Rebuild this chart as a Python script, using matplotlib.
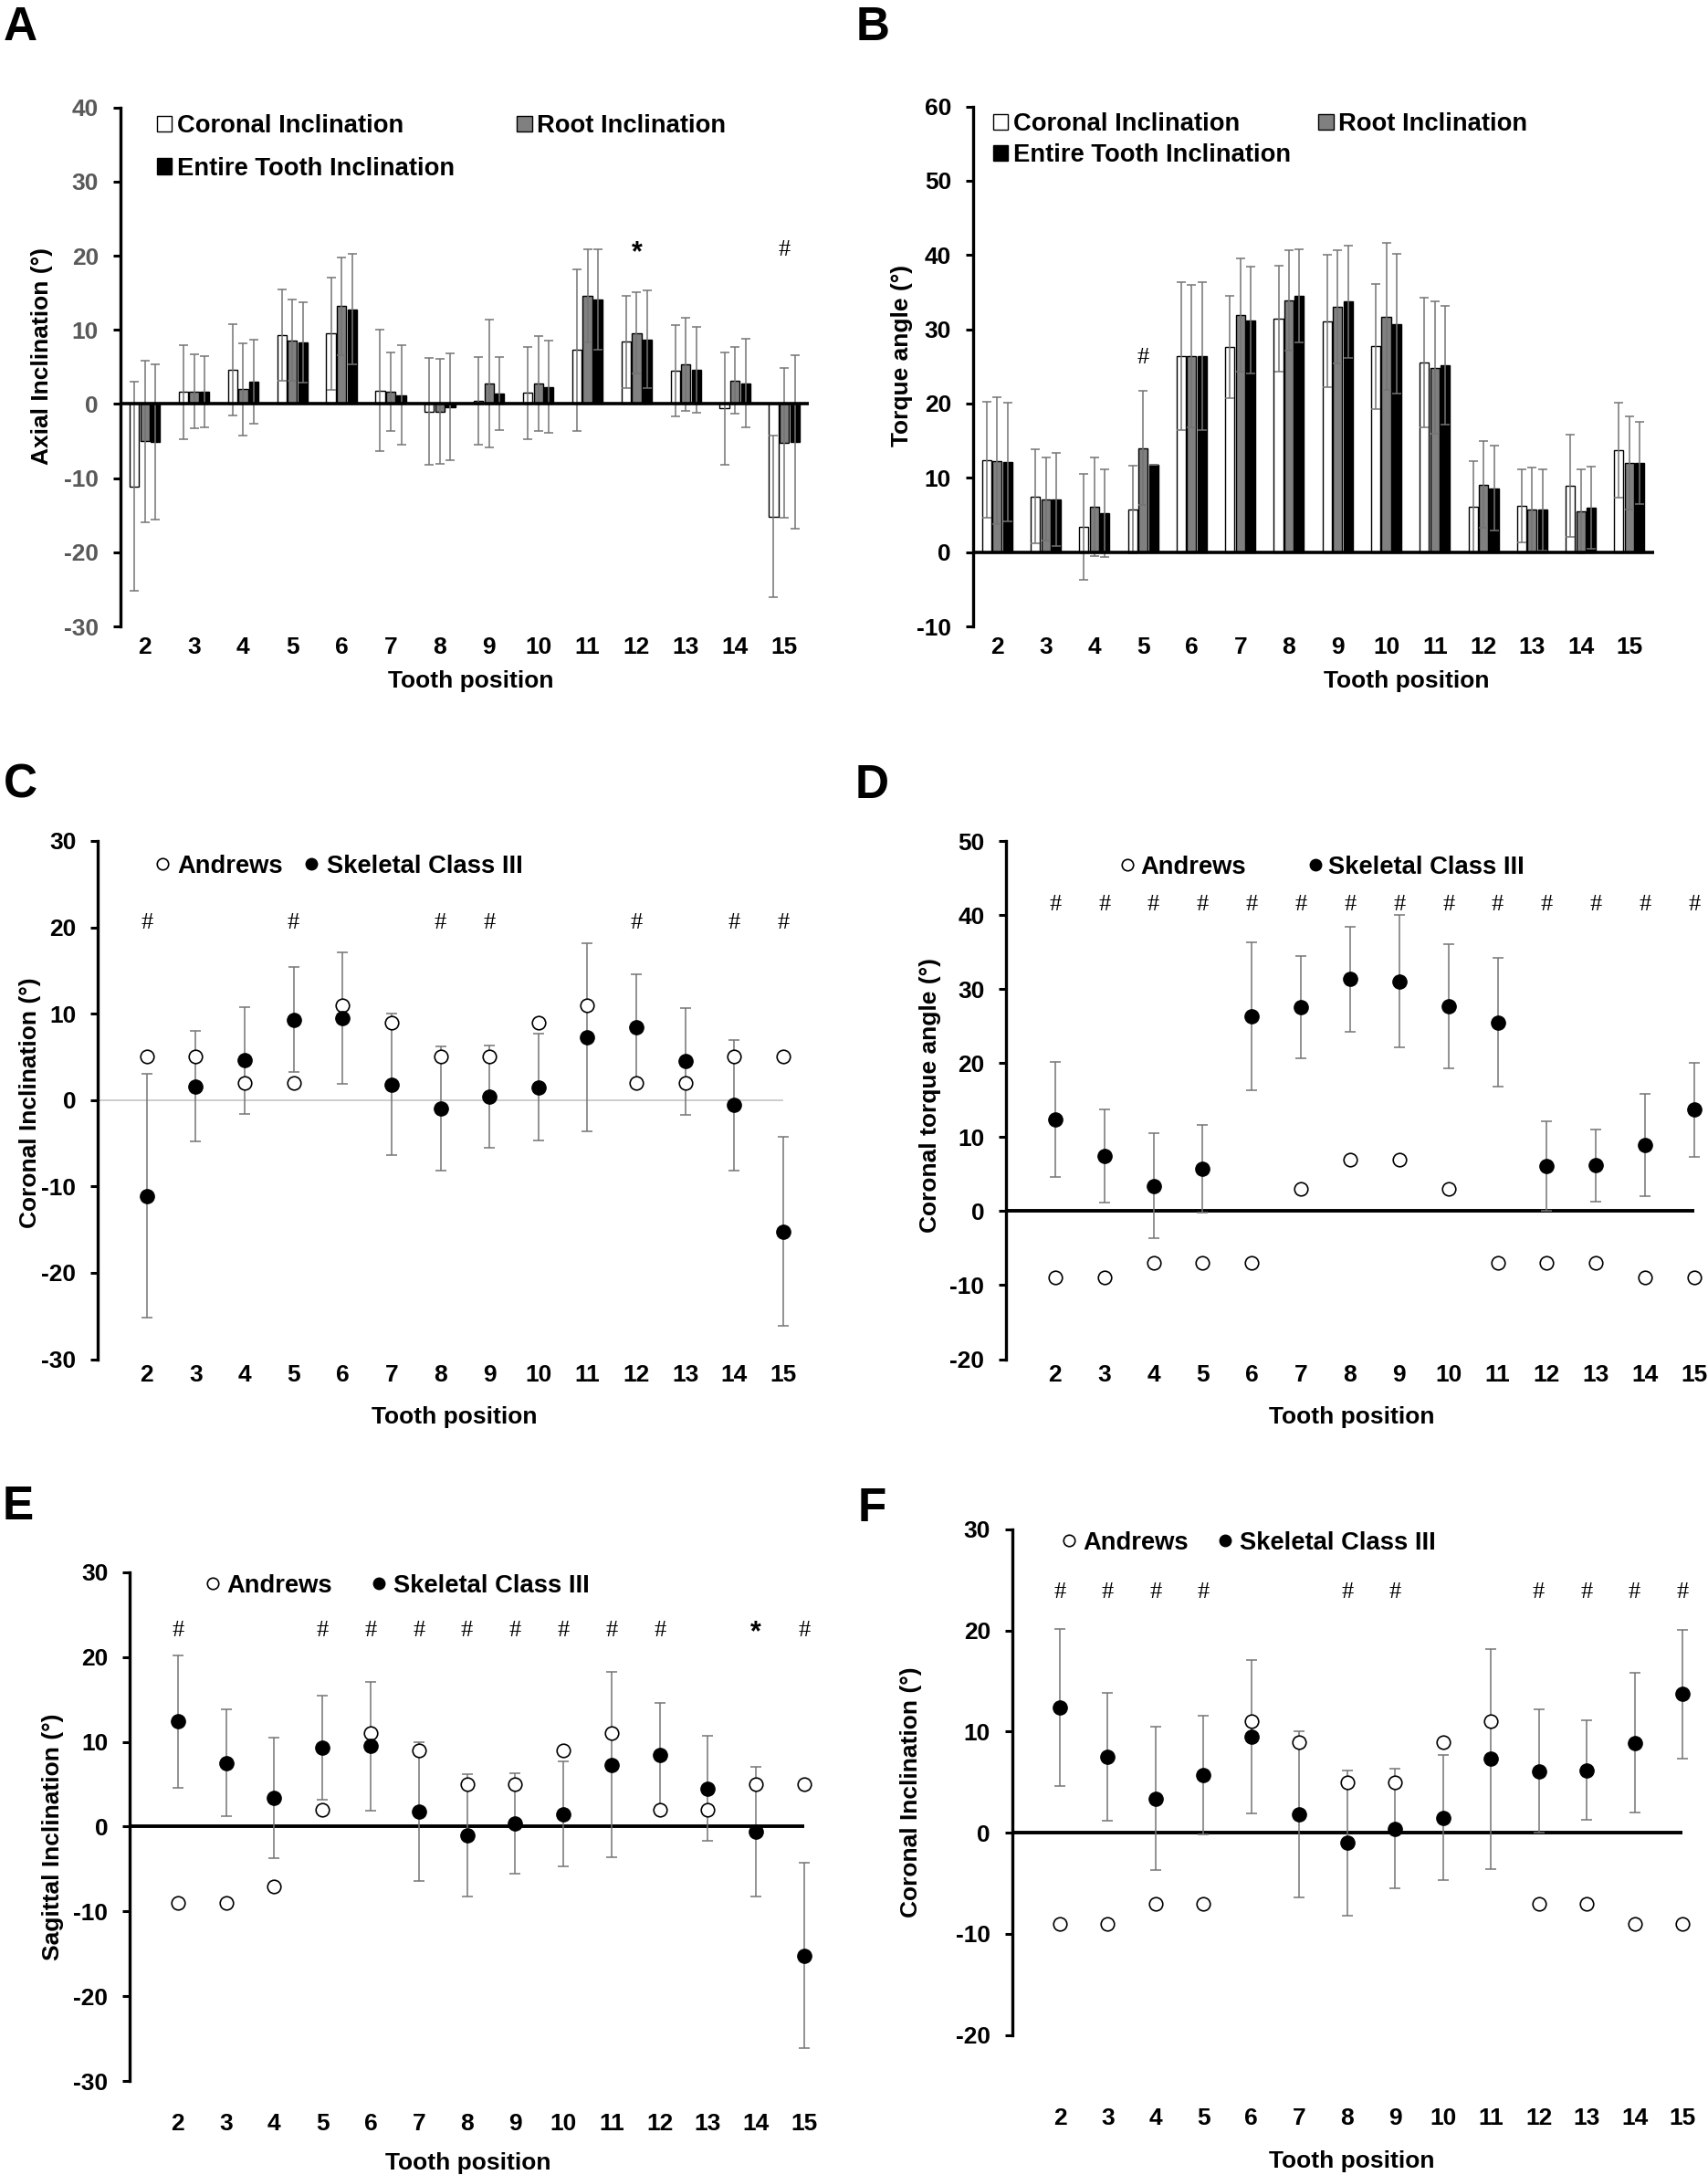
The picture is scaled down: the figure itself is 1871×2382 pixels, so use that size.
import numpy as np
import matplotlib
matplotlib.use('Agg')
import matplotlib.pyplot as plt
from matplotlib.patches import Patch
from matplotlib.lines import Line2D

plt.rcParams['font.family'] = ['Liberation Sans', 'DejaVu Sans']
plt.rcParams['font.weight'] = 'bold'
plt.rcParams['axes.unicode_minus'] = False

teeth = list(range(2, 16))

# A: axial inclination (mean, SD)
axial_coronal = [-11.1, 1.6, 4.6, 9.3, 9.5, 1.8, -1.0, 0.4, 1.5, 7.3, 8.4, 4.5, -0.6, -15.2]
axial_coronal_sd = [14.1, 6.4, 6.2, 6.1, 7.6, 8.2, 7.2, 5.9, 6.2, 10.9, 6.2, 6.2, 7.6, 10.9]
axial_root = [-5.0, 1.7, 2.0, 8.6, 13.2, 1.7, -1.0, 2.8, 2.8, 14.6, 9.6, 5.4, 3.2, -5.2]
axial_root_sd = [10.9, 5.0, 6.2, 5.5, 6.6, 5.3, 7.1, 8.6, 6.4, 6.3, 5.5, 6.3, 4.5, 10.1]
axial_entire = [-5.1, 1.7, 3.0, 8.3, 12.8, 1.2, -0.4, 1.4, 2.3, 14.1, 8.7, 4.6, 2.8, -5.1]
axial_entire_sd = [10.5, 4.8, 5.7, 5.4, 7.5, 6.7, 7.2, 4.9, 6.2, 6.8, 6.6, 5.8, 6.0, 11.7]

# B: torque angle (mean, SD)
torque_coronal = [12.4, 7.5, 3.4, 5.7, 26.4, 27.6, 31.4, 31.1, 27.7, 25.5, 6.1, 6.2, 8.9, 13.7]
torque_coronal_sd = [7.8, 6.3, 7.1, 5.9, 10.0, 6.9, 7.1, 8.9, 8.4, 8.7, 6.1, 4.9, 6.9, 6.4]
torque_root = [12.3, 7.1, 6.1, 14.0, 26.4, 31.9, 33.9, 33.0, 31.7, 24.8, 9.1, 5.7, 5.5, 12.0]
torque_root_sd = [8.5, 5.6, 6.6, 7.7, 9.6, 7.6, 6.8, 7.6, 9.9, 8.9, 5.8, 5.7, 5.7, 6.3]
torque_entire = [12.1, 7.1, 5.3, 11.8, 26.4, 31.2, 34.5, 33.7, 30.7, 25.2, 8.6, 5.7, 6.0, 12.0]
torque_entire_sd = [8.0, 6.3, 5.9, 0.0, 10.0, 7.2, 6.3, 7.6, 9.4, 8.0, 5.7, 5.5, 5.5, 5.5]

# C-F: Andrews norms vs skeletal class III (mean, SD)
c_andrews = [5, 5, 2, 2, 11, 9, 5, 5, 9, 11, 2, 2, 5, 5]
c_class3 = [-11.1, 1.6, 4.6, 9.3, 9.5, 1.8, -1.0, 0.4, 1.5, 7.3, 8.4, 4.5, -0.6, -15.2]
c_class3_sd = [14.1, 6.4, 6.2, 6.1, 7.6, 8.2, 7.2, 5.9, 6.2, 10.9, 6.2, 6.2, 7.6, 10.9]

d_andrews = [-9, -9, -7, -7, -7, 3, 7, 7, 3, -7, -7, -7, -9, -9]
d_class3 = [12.4, 7.5, 3.4, 5.7, 26.4, 27.6, 31.4, 31.1, 27.7, 25.5, 6.1, 6.2, 8.9, 13.7]
d_class3_sd = [7.8, 6.3, 7.1, 5.9, 10.0, 6.9, 7.1, 8.9, 8.4, 8.7, 6.1, 4.9, 6.9, 6.4]

e_andrews = [-9, -9, -7, 2, 11, 9, 5, 5, 9, 11, 2, 2, 5, 5]
e_class3 = [12.4, 7.5, 3.4, 9.3, 9.5, 1.8, -1.0, 0.4, 1.5, 7.3, 8.4, 4.5, -0.6, -15.2]
e_class3_sd = [7.8, 6.3, 7.1, 6.1, 7.6, 8.2, 7.2, 5.9, 6.2, 10.9, 6.2, 6.2, 7.6, 10.9]

f_andrews = [-9, -9, -7, -7, 11, 9, 5, 5, 9, 11, -7, -7, -9, -9]
f_class3 = [12.4, 7.5, 3.4, 5.7, 9.5, 1.8, -1.0, 0.4, 1.5, 7.3, 6.1, 6.2, 8.9, 13.7]
f_class3_sd = [7.8, 6.3, 7.1, 5.9, 7.6, 8.2, 7.2, 5.9, 6.2, 10.9, 6.1, 4.9, 6.9, 6.4]

# significance marks: (tooth, symbol)
a_sig = [(12, '*'), (15, '#')]
b_sig = [(5, '#')]
c_sig = [(t, '#') for t in [2, 5, 8, 9, 12, 14, 15]]
d_sig = [(t, '#') for t in teeth]
e_sig = [(t, '#') for t in [2, 5, 6, 7, 8, 9, 10, 11, 12]] + [(14, '*'), (15, '#')]
f_sig = [(t, '#') for t in [2, 3, 4, 5, 8, 9, 12, 13, 14, 15]]

FS = 19
LFS = 19.7
GREY = '#747474'
W, H = 1871, 2382

fig = plt.figure(figsize=(W / 100, H / 100), dpi=100)


def add_ax(left, top, right, bottom):
    return fig.add_axes([left / W, 1 - bottom / H, (right - left) / W, (bottom - top) / H])


def style(ax, ylim, ystep, ylabel, ylab_pos, xlab_pos, xpad, tick_color='black'):
    ax.set_ylim(ylim)
    ax.set_yticks(np.arange(ylim[0], ylim[1] + 1, ystep))
    for s in ['top', 'right', 'bottom']:
        ax.spines[s].set_visible(False)
    ax.spines['left'].set_linewidth(2.4)
    ax.tick_params(axis='y', direction='out', length=6, width=2.2, labelsize=FS,
                   labelcolor=tick_color, pad=11)
    ax.tick_params(axis='x', length=0, labelsize=FS, pad=xpad)
    ax.set_ylabel(ylabel, fontsize=FS, fontweight='bold', va='center', ha='center')
    ax.yaxis.set_label_coords(*ylab_pos)
    ax.set_xlabel('Tooth position', fontsize=FS, fontweight='bold', va='center')
    ax.xaxis.set_label_coords(*xlab_pos)


def draw_sig(ax, x, y, s):
    if s == '#':
        ax.text(x, y, s, family='Liberation Serif', fontweight='normal', fontsize=FS,
                ha='center', va='center')
    else:
        ax.text(x, y - 0.3, s, fontsize=FS + 3, fontweight='bold', ha='center', va='center')


def bar_panel(ax, series, sds, sig, sig_y):
    x = np.arange(len(teeth))
    colors = ['white', '#808080', 'black']
    offsets = [-0.215, 0, 0.215]
    for vals, sd, col, off in zip(series, sds, colors, offsets):
        ax.bar(x + off, vals, width=0.19, color=col, edgecolor='black', linewidth=1.0,
               yerr=sd, error_kw=dict(ecolor=GREY, elinewidth=1.1, capsize=3.3, capthick=1.1),
               zorder=2)
    ax.axhline(0, color='black', lw=2.6, zorder=3)
    ax.set_xlim(-0.5, 13.5)
    ax.set_xticks(x, [str(t) for t in teeth])
    for t, s in sig:
        draw_sig(ax, teeth.index(t), sig_y, s)


def dot_panel(ax, andrews, class3, sd, sig, sig_y, zero_color='black', zero_lw=2.8):
    ax.set_xlim(1, 15)
    ax.set_xticks(teeth, [str(t) for t in teeth])
    ax.axhline(0, color=zero_color, lw=zero_lw, zorder=1)
    eb = ax.errorbar(teeth, class3, yerr=sd, fmt='none', ecolor=GREY, elinewidth=1.1,
                     capsize=4, capthick=1.1, zorder=2)
    for art in eb.get_children():
        art.set_clip_on(False)
    ax.plot(teeth, andrews, 'o', ms=10.5, mfc='white', mec='black', mew=1.2, ls='none',
            zorder=3, clip_on=False)
    ax.plot(teeth, class3, 'o', ms=11, mfc='black', mec='black', ls='none',
            zorder=4, clip_on=False)
    for t, s in sig:
        draw_sig(ax, t, sig_y, s)


def dot_legend(ax, anchor, colspace, pad):
    handles = [Line2D([], [], marker='o', ls='none', ms=9, mfc='white', mec='black', mew=1.2),
               Line2D([], [], marker='o', ls='none', ms=9, mfc='black', mec='black')]
    ax.legend(handles, ['Andrews', 'Skeletal Class III'], ncol=2, loc='center left',
              bbox_to_anchor=anchor, frameon=False, fontsize=LFS, handlelength=0.55,
              handletextpad=pad, columnspacing=colspace, borderpad=0, borderaxespad=0)


def bar_legend(ax, anchor, colspace, labspace):
    handles = [Patch(facecolor='white', edgecolor='black', lw=1),
               Patch(facecolor='black', edgecolor='black', lw=1),
               Patch(facecolor='#808080', edgecolor='black', lw=1)]
    labels = ['Coronal Inclination', 'Entire Tooth Inclination', 'Root Inclination']
    ax.legend(handles, labels, ncol=2, loc='center left', bbox_to_anchor=anchor,
              frameon=False, fontsize=LFS, handlelength=0.6, handleheight=0.6,
              handletextpad=0.2, columnspacing=colspace, labelspacing=labspace,
              borderpad=0, borderaxespad=0)


# Panel A
axA = add_ax(131.7, 117.8, 886, 686)
bar_panel(axA, [axial_coronal, axial_root, axial_entire],
          [axial_coronal_sd, axial_root_sd, axial_entire_sd], a_sig, 20.7)
style(axA, (-30, 40), 10, 'Axial Inclination (°)', (-0.1136, 0.521), (0.5095, -0.1056), 8,
      tick_color='#595959')
bar_legend(axA, (0.053, 0.9235), 2.5, 0.75)

# Panel B
axB = add_ax(1065.7, 116.5, 1811.5, 686)
bar_panel(axB, [torque_coronal, torque_root, torque_entire],
          [torque_coronal_sd, torque_root_sd, torque_entire_sd], b_sig, 26.1)
style(axB, (-10, 60), 10, 'Torque angle (°)', (-0.1042, 0.521), (0.6366, -0.1053), 8)
bar_legend(axB, (0.030, 0.9355), 1.1, 0.28)

# Panel C
axC = add_ax(107, 921, 858, 1488.5)
dot_panel(axC, c_andrews, c_class3, c_class3_sd, c_sig, 20.5, zero_color='#c8c8c8', zero_lw=1.3)
style(axC, (-30, 30), 10, 'Coronal Inclination (°)', (-0.098, 0.494), (0.5206, -0.1119), 4)
dot_legend(axC, (0.0839, 0.9507), 0.85, 0.34)

# Panel D
axD = add_ax(1102, 921.4, 1856, 1488.5)
dot_panel(axD, d_andrews, d_class3, d_class3_sd, d_sig, 41.4)
style(axD, (-20, 50), 10, 'Coronal torque angle (°)', (-0.110, 0.510), (0.5027, -0.112), 4)
dot_legend(axD, (0.167, 0.9496), 2.5, 0.23)

# Panel E
axE = add_ax(142, 1721.8, 881, 2279.2)
dot_panel(axE, e_andrews, e_class3, e_class3_sd, e_sig, 23.1)
style(axE, (-30, 30), 10, 'Sagittal Inclination (°)', (-0.1137, 0.479), (0.5015, -0.161), 25)
dot_legend(axE, (0.1123, 0.9727), 1.6, 0.3)

# Panel F
axF = add_ax(1108.5, 1675, 1843, 2228.6)
dot_panel(axF, f_andrews, f_class3, f_class3_sd, f_sig, 23.8)
style(axF, (-20, 30), 10, 'Coronal Inclination (°)', (-0.150, 0.48), (0.507, -0.25), 57)
dot_legend(axF, (0.0742, 0.9729), 1.2, 0.3)

# panel letters
for letter, xp, yp in [('A', 22, 30), ('B', 956, 30), ('C', 22, 860), ('D', 955, 860),
                       ('E', 20, 1651), ('F', 955, 1653)]:
    fig.text(xp / W, 1 - yp / H, letter, fontsize=37, fontweight='bold', ha='center', va='center')

fig.savefig('out.png', dpi=100)
